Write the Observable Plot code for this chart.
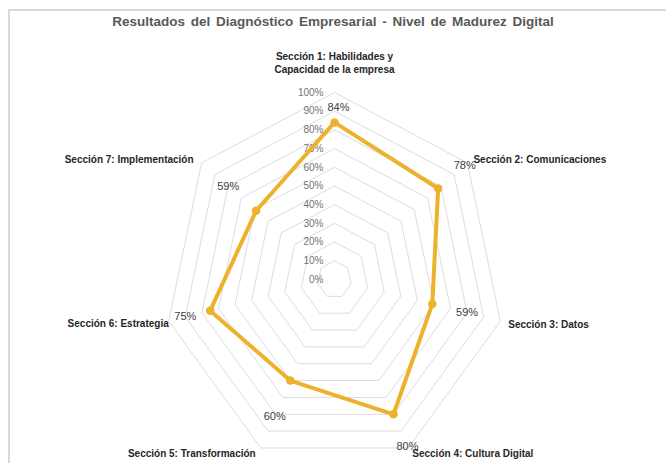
<!DOCTYPE html>
<html>
<head>
<meta charset="utf-8">
<script src="https://cdn.jsdelivr.net/npm/d3@7"></script>
<script src="https://cdn.jsdelivr.net/npm/@observablehq/plot@0.6"></script>
<style>
  html, body { margin: 0; padding: 0; background: #fff; }
  #wrap { position: relative; width: 666px; height: 463px; overflow: hidden; font-family: "Liberation Sans", Arial, sans-serif; }
  #frame { position: absolute; left: 8px; top: 9px; width: 700px; height: 500px; border-left: 2px solid #d9d9d9; border-top: 2px solid #d9d9d9; }
  #title { position: absolute; left: 0; width: 666px; top: 14px; text-align: center; font-size: 13.5px; font-weight: bold; color: #595959; word-spacing: 2px; }
  #chart { position: absolute; left: 0; top: 0; }
</style>
</head>
<body>
<div id="wrap">
  <div id="frame"></div>
  <div id="chart"></div>
  <div id="title">Resultados del Diagnóstico Empresarial - Nivel de Madurez Digital</div>
</div>
<script>
const categories = [
  "Sección 1: Habilidades y\nCapacidad de la empresa",
  "Sección 2: Comunicaciones",
  "Sección 3: Datos",
  "Sección 4: Cultura Digital",
  "Sección 5: Transformación",
  "Sección 6: Estrategia",
  "Sección 7: Implementación"
];
const values = [84, 78, 59, 80, 60, 75, 59];
const tickLevels = [0, 10, 20, 30, 40, 50, 60, 70, 80, 90, 100];
const tickLabels = ["0%", "10%", "20%", "30%", "40%", "50%", "60%", "70%", "80%", "90%", "100%"];

const n = categories.length;
const ang = i => 2 * Math.PI * i / n;
const px = (i, r) => r * Math.sin(ang(i));
const py = (i, r) => r * Math.cos(ang(i));

// grid rings (heptagons), built from tick levels
const rings = [];
tickLevels.filter(t => t > 0).forEach(t => {
  for (let i = 0; i <= n; i++) rings.push({ level: t, x: px(i % n, t / 100), y: py(i % n, t / 100) });
});

const pts = values.map((v, i) => ({ i, v, x: px(i, v / 100), y: py(i, v / 100) }));
const labelPad = [0.08, 0.20, 0.21, 0.19, 0.21, 0.15, 0.21];
const labelDx = [4, 0, 0, 0, 0, 0, 0];
const valueLabels = values.map((v, i) => ({ k: i, text: v + "%", x: px(i, v / 100 + labelPad[i]), y: py(i, v / 100 + labelPad[i]) }));

const catPos = categories.map((c, i) => ({ c, i, x: px(i, 1), y: py(i, 1) }));
const catStyle = [
  { textAnchor: "middle", dx: 0, dy: -20 },
  { textAnchor: "start", dx: 6, dy: -4 },
  { textAnchor: "start", dx: 8, dy: 3 },
  { textAnchor: "start", dx: 4, dy: 5 },
  { textAnchor: "end", dx: -5, dy: 5 },
  { textAnchor: "end", dx: 0, dy: 2 },
  { textAnchor: "end", dx: -8, dy: -4 }
];

const cx = 334, cy = 279, rx = 170, ry = 187;
const font = "Liberation Sans, Arial, sans-serif";

const chart = Plot.plot({
  width: 666,
  height: 463,
  margin: 0,
  style: { fontFamily: font, background: "transparent", overflow: "visible" },
  x: { type: "linear", domain: [-1, 1], range: [cx - rx, cx + rx], axis: null },
  y: { type: "linear", domain: [-1, 1], range: [cy + ry, cy - ry], axis: null },
  marks: [
    Plot.line(rings, { x: "x", y: "y", z: "level", stroke: "#dcdcdc", strokeWidth: 1 }),
    Plot.text(tickLevels, { x: () => 0, y: t => t / 100, text: (t, k) => tickLabels[k], textAnchor: "end", dx: -11, fill: "#737373", fontSize: 10 }),
    Plot.line(pts, { x: "x", y: "y", curve: "linear-closed", stroke: "#EDB22C", strokeWidth: 4, strokeLinejoin: "round" }),
    Plot.dot(pts, { x: "x", y: "y", r: 3.5, fill: "#EDB22C", stroke: "#EDB22C" }),
    ...valueLabels.map(d => Plot.text([d], { x: "x", y: "y", text: "text", dx: labelDx[d.k], fill: "#404040", fontSize: 11 })),
    ...catPos.map((d, k) => Plot.text([d], {
      x: "x", y: "y", text: "c",
      textAnchor: catStyle[k].textAnchor, dx: catStyle[k].dx, dy: catStyle[k].dy,
      lineAnchor: k === 0 ? "bottom" : "middle",
      lineHeight: 1.3,
      fill: "#262626", fontSize: 10, fontWeight: "bold"
    }))
  ]
});
document.getElementById("chart").appendChild(chart);
</script>
</body>
</html>
